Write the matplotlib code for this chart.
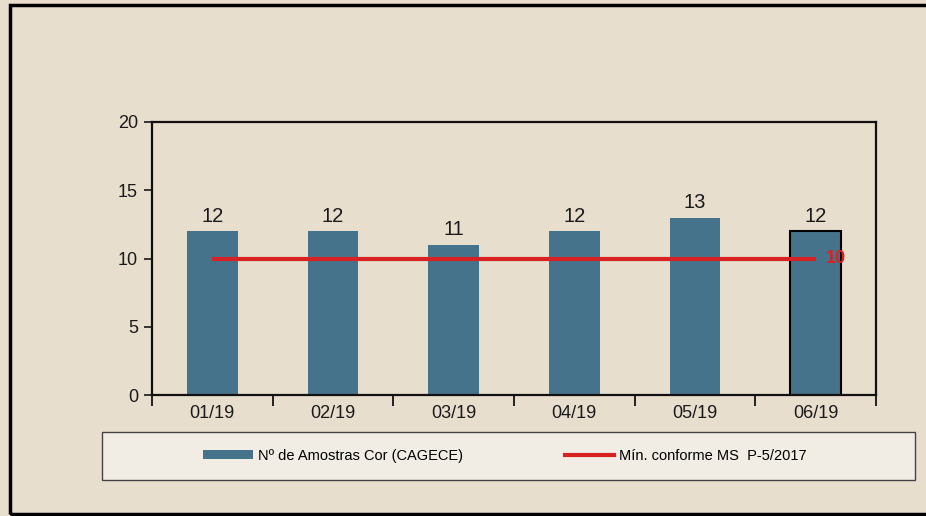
import matplotlib.pyplot as plt
from matplotlib.patches import Rectangle, Patch
from matplotlib.lines import Line2D

# data
months = ["01/19", "02/19", "03/19", "04/19", "05/19", "06/19"]
amostras = [12, 12, 11, 12, 13, 12]
minimo = [10, 10, 10, 10, 10, 10]

bar_color = "#46738c"
red = "#d62222"
paper = "#e8dece"

plt.rcParams["font.family"] = ["Liberation Sans", "DejaVu Sans"]

fig = plt.figure(figsize=(9.26, 5.16), dpi=100, facecolor=paper)
ax = fig.add_axes([152 / 926, 1 - 395 / 516, (876 - 152) / 926, (395 - 122) / 516])
ax.set_facecolor("none")

x = list(range(len(months)))
bars = ax.bar(x, amostras, width=0.42, color=bar_color, zorder=2)
bars[-1].set_edgecolor("black")
bars[-1].set_linewidth(1.5)

for xi, v in zip(x, amostras):
    ax.annotate(str(v), (xi, v), xytext=(0, 4), textcoords="offset points",
                ha="center", va="bottom", fontsize=14.5, color="#1a1a1a")

ax.plot(x, minimo, color=red, lw=3, zorder=3, solid_capstyle="butt")
ax.annotate(str(minimo[-1]), (x[-1], minimo[-1]), xytext=(7, 0), textcoords="offset points",
            ha="left", va="center", fontsize=13, color=red, fontweight="bold")

ax.set_xlim(-0.5, len(months) - 0.5)
ax.set_ylim(0, 20)
ax.set_yticks([0, 5, 10, 15, 20])
ax.set_xticks(x)
ax.set_xticklabels(months)
ax.set_xticks([i - 0.5 for i in range(len(months) + 1)], minor=True)
ax.tick_params(axis="x", which="major", length=0, labelsize=13, pad=7, colors="#1a1a1a")
ax.tick_params(axis="x", which="minor", length=8, width=1.2, direction="out")
ax.tick_params(axis="y", length=6, width=1.2, labelsize=13, pad=4, colors="#1a1a1a")
for s in ax.spines.values():
    s.set_linewidth(1.6)
    s.set_color("#111111")

# legend box
fig.patches.append(Rectangle((102 / 926, 1 - 480 / 516), (915 - 102) / 926, 48 / 516,
                             transform=fig.transFigure, facecolor="#f1ede5",
                             edgecolor="#444444", lw=1.0, zorder=1))
handles = [Patch(facecolor=bar_color), Line2D([], [], color=red, lw=3)]
labels = ["Nº de Amostras Cor (CAGECE)", "Mín. conforme MS  P-5/2017"]
leg = fig.legend(handles, labels, loc="center", bbox_to_anchor=(505 / 926, 1 - 456 / 516),
                 ncol=2, frameon=False, fontsize=10.5, handlelength=3.4, handleheight=0.6,
                 handletextpad=0.35, columnspacing=7.0)

# outer frame
fig.patches.append(Rectangle((10 / 926, 2 / 516), 930 / 926, (514 - 5) / 516,
                             transform=fig.transFigure, facecolor="none",
                             edgecolor="black", lw=2.5, zorder=5))

fig.savefig("out.png", dpi=100, facecolor=paper)
